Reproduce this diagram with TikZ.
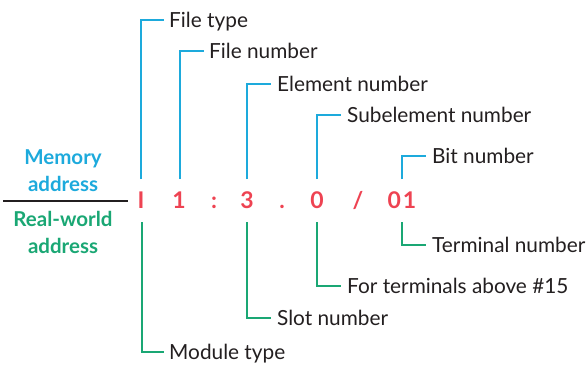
\documentclass[tikz,border=0pt]{standalone}
\usepackage{fontspec}
\setmainfont{Lato}
\definecolor{mblue}{HTML}{1DAADC}
\definecolor{rgreen}{HTML}{1AA774}
\definecolor{cred}{HTML}{EE4352}
\definecolor{ink}{HTML}{231F20}
\tikzset{
  redch/.style={inner sep=0pt, text=cred, font=\bfseries\fontsize{23}{23}\selectfont, text height=16pt, text depth=0pt},
  lbl/.style={inner sep=0pt, anchor=west, text=ink, font=\fontsize{20.8}{21}\selectfont, text height=14.8pt, text depth=0pt},
  side/.style={inner sep=0pt, font=\bfseries\fontsize{20.5}{21}\selectfont, text height=15pt, text depth=0pt},
  bline/.style={draw=mblue, line width=1.2pt},
  gline/.style={draw=rgreen, line width=1.2pt}
}
\begin{document}
\begin{tikzpicture}[x=1pt,y=-1pt]
\useasboundingbox (0,0) rectangle (588,364);
% address characters
\node[redch] (cI) at (141,200) {I};
\node[redch] (c1) at (179,200) {1};
\node[redch] (cc) at (214,200) {:};
\node[redch] (c3) at (247,200) {3};
\node[redch] (cd) at (282,200) {.};
\node[redch] (c0) at (317,200) {0};
\node[redch] (cs) at (358,200) {/};
\node[redch] (c01) at (402,200) {0\kern2pt1};
% side labels
\node[side, text=mblue] (m1) at (63,157) {Memory};
\node[side, text=mblue] (m2) at (63,184) {address};
\node[side, text=rgreen] (r1) at (63,219) {Real-world};
\node[side, text=rgreen] (r2) at (63,246) {address};
\draw[ink, line width=1.2pt] (3,201) -- (128,201);
% top labels
\node[lbl] (ft) at (169,20) {File type};
\node[lbl] (fn) at (209,51) {File number};
\node[lbl] (en) at (277,84) {Element number};
\node[lbl] (sn) at (347,115) {Subelement number};
\node[lbl] (bn) at (432,156) {Bit number};
% bottom labels
\node[lbl] (tn) at (432,245) {Terminal number};
\node[lbl] (fa) at (347,286) {For terminals above \#15};
\node[lbl] (sl) at (277,318) {Slot number};
\node[lbl] (mt) at (169,352) {Module type};
% connectors
\draw[bline] (cI) ++(0,-21) |- ([xshift=-5pt]ft.west);
\draw[bline] (c1) ++(1,-21) |- ([xshift=-5pt]fn.west);
\draw[bline] (c3) ++(0,-21) |- ([xshift=-6pt]en.west);
\draw[bline] (c0) ++(0,-21) |- ([xshift=-6pt]sn.west);
\draw[bline] (c01) ++(0,-21) |- ([xshift=-6pt]bn.west);
\draw[gline] (c01) ++(0,22) |- ([xshift=-6pt]tn.west);
\draw[gline] (c0) ++(0,22) |- ([xshift=-6pt]fa.west);
\draw[gline] (c3) ++(0,22) |- ([xshift=-6pt]sl.west);
\draw[gline] (cI) ++(1,22) |- ([xshift=-5pt]mt.west);
\end{tikzpicture}
\end{document}
